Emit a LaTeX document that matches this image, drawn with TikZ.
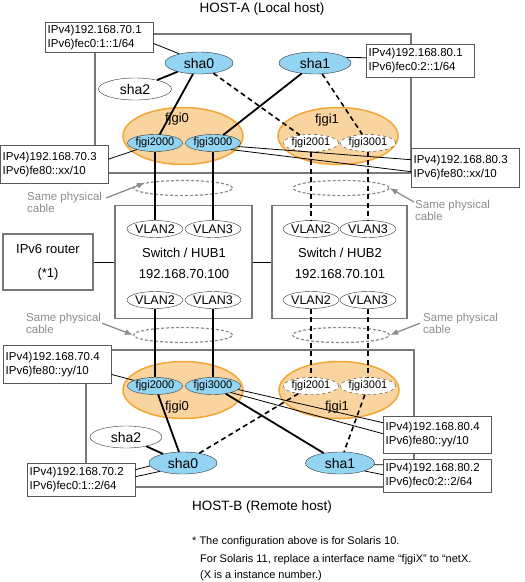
\documentclass[tikz,border=0pt]{standalone}
\usepackage{fontspec}
\setmainfont{Liberation Sans}
\usetikzlibrary{shapes.geometric,arrows.meta}
\definecolor{shablue}{RGB}{146,212,242}
\definecolor{fjfill}{RGB}{249,212,158}
\definecolor{fjline}{RGB}{242,166,52}
\definecolor{hostgray}{RGB}{120,120,120}
\definecolor{cablegray}{RGB}{140,140,140}

\begin{document}
\begin{tikzpicture}[x=1pt,y=-1pt,
  sha/.style={ellipse,draw=black!80,fill=shablue,inner sep=0pt,minimum width=68pt,minimum height=22pt,font=\fontsize{14}{14}\selectfont},
  shaw/.style={sha,fill=white,minimum width=73pt},
  grp/.style={ellipse,draw=fjline,line width=1.5pt,fill=fjfill,minimum width=120pt,minimum height=57pt,inner sep=0pt},
  grptxt/.style={font=\fontsize{13}{13}\selectfont},
  nic/.style={ellipse,draw=black!80,fill=shablue,inner sep=0pt,minimum width=55pt,minimum height=17pt,font=\fontsize{11}{11}\selectfont},
  nicd/.style={nic,fill=white,dashed},
  vlan/.style={ellipse,draw=black!80,fill=white,inner sep=0pt,minimum width=55pt,minimum height=17pt,font=\fontsize{12.5}{12.5}\selectfont},
  cable/.style={ellipse,draw=cablegray,dash pattern=on 3pt off 2pt,line width=1.2pt,minimum width=99pt,minimum height=15pt,inner sep=0pt},
  lbl/.style={draw=black!65,fill=white,anchor=north west,align=left,text width=103pt,inner sep=2.5pt,minimum height=34pt,font=\fontsize{11.5}{14}\selectfont},
  hostbox/.style={draw=hostgray,line width=1.1pt},
  hub/.style={rectangle,draw=hostgray,line width=1.1pt,minimum width=137pt,minimum height=113pt},
  lnk/.style={line width=1.8pt},
  dlnk/.style={line width=1.6pt,dash pattern=on 5pt off 3.5pt},
  thin/.style={line width=0.8pt},
  gtxt/.style={text=cablegray,align=left,anchor=north west,inner sep=0pt,font=\fontsize{11.5}{11.5}\selectfont},
  garr/.style={draw=cablegray,line width=1.3pt,-{Latex[length=8pt,width=6pt]}},
  ttl/.style={font=\fontsize{13.5}{13.5}\selectfont}]
\useasboundingbox (0,0) rectangle (525,582);

\node[ttl] (hosta) at (262,9) {HOST-A (Local host)};
\draw[hostbox] (95,34) rectangle (411,173);
\node[grp] (f0a) at (183,136) {};
\node[grp] (f1a) at (338,136) {};
\node[grptxt] (f0at) at (177,119) {fjgi0};
\node[grptxt] (f1at) at (327,120) {fjgi1};
\node[sha] (s0a) at (199,63) {sha0};
\node[sha,minimum width=72pt] (s1a) at (315,63) {sha1};
\node[shaw] (s2a) at (135,89) {sha2};
\node[nic] (g20a) at (155,143) {fjgi2000};
\node[nic] (g30a) at (213,143) {fjgi3000};
\node[nicd] (g21a) at (311,143) {fjgi2001};
\node[nicd] (g31a) at (368,143) {fjgi3001};
\draw[lnk] (s0a) -- (s2a);
\draw[lnk] (s0a) -- (g20a);
\draw[lnk] (s1a) -- (g30a);
\draw[dlnk] (s0a) -- (g21a);
\draw[dlnk] (s1a) -- (g31a);

\node[cable] (ca1) at (183,188) {};
\node[cable,minimum width=96pt] (ca2) at (341,188) {};
\node[cable] (cb1) at (183,335) {};
\node[cable,minimum width=97pt] (cb2) at (341,335) {};
\node[gtxt] (t1) at (27,192) {Same physical\\cable};
\node[gtxt] (t2) at (415,200) {Same physical\\cable};
\node[gtxt] (t3) at (26,313) {Same physical\\cable};
\node[gtxt] (t4) at (423,313) {Same physical\\cable};
\draw[garr] ([xshift=4pt,yshift=-6pt]t1.north east) -- (ca1.172);
\draw[garr] ([xshift=-1pt,yshift=-2pt]t2.north west) -- (ca2.east);
\draw[garr] ([xshift=1pt]t3.east) -- (cb1.west);
\draw[garr] ([xshift=-3pt]t4.west) -- (cb2.east);

\node[hub] (hub1) at (183.5,262) {};
\node[hub,minimum width=135pt] (hub2) at (339.5,262) {};
\node[align=center,font=\fontsize{13}{21}\selectfont] (hub1t) at (184,263.5) {Switch / HUB1\\192.168.70.100};
\node[align=center,font=\fontsize{13}{21}\selectfont] (hub2t) at (340,263.5) {Switch / HUB2\\192.168.70.101};
\node[vlan] (v2a) at (155,229) {VLAN2};
\node[vlan] (v3a) at (213,229) {VLAN3};
\node[vlan] (v2b) at (155,300) {VLAN2};
\node[vlan] (v3b) at (213,300) {VLAN3};
\node[vlan] (v2c) at (311,229) {VLAN2};
\node[vlan] (v3c) at (368,229) {VLAN3};
\node[vlan] (v2d) at (311,300) {VLAN2};
\node[vlan] (v3d) at (368,300) {VLAN3};
\node[rectangle,draw=hostgray,line width=1.1pt,minimum width=90pt,minimum height=56pt,align=center,font=\fontsize{13}{24}\selectfont] (rtr) at (48,262) {IPv6 router\\(*1)};
\draw[thin] (rtr) -- (hub1);
\draw[thin] (hub1) -- (hub2);

\draw[lnk] (g20a.south) -- (v2a.north);
\draw[lnk] (g30a.south) -- (v3a.north);
\draw[dlnk] (g21a.south) -- (v2c.north);
\draw[dlnk] (g31a.south) -- (v3c.north);

\node[ttl] (hostb) at (262,507) {HOST-B (Remote host)};
\draw[hostbox] (86,350) rectangle (414,487);
\node[grp] (f0b) at (183,390) {};
\node[grp] (f1b) at (339,390) {};
\node[grptxt] (f0bt) at (177,407) {fjgi0};
\node[grptxt] (f1bt) at (337,407) {fjgi1};
\node[nic] (g20b) at (155,386) {fjgi2000};
\node[nic] (g30b) at (213,386) {fjgi3000};
\node[nicd] (g21b) at (311,386) {fjgi2001};
\node[nicd] (g31b) at (368,386) {fjgi3001};
\node[shaw,minimum width=72pt] (s2b) at (126,437) {sha2};
\node[sha] (s0b) at (183,463) {sha0};
\node[sha,minimum width=69pt] (s1b) at (340,463) {sha1};
\draw[lnk] (g20b) -- (s0b);
\draw[lnk] (s2b) -- (s0b);
\draw[lnk] (g30b) -- (s1b);
\draw[dlnk] (s0b) -- (g21b);
\draw[dlnk] (g31b) -- (s1b);

\draw[lnk] (v2b.south) -- (g20b.north);
\draw[lnk] (v3b.south) -- (g30b.north);
\draw[dlnk] (v2d.south) -- (g21b.north);
\draw[dlnk] (v3d.south) -- (g31b.north);

\node[lbl,minimum height=30pt] (la1) at (45,22) {IPv4)192.168.70.1\\IPv6)fec0:1::1/64};
\node[lbl,minimum height=33pt] (la2) at (366,44) {IPv4)192.168.80.1\\IPv6)fec0:2::1/64};
\node[lbl,minimum height=38pt] (la3) at (0,145) {IPv4)192.168.70.3\\IPv6)fe80::xx/10};
\node[lbl,minimum height=39pt] (la4) at (411,148) {IPv4)192.168.80.3\\IPv6)fe80::xx/10};
\draw[thin] ([yshift=9pt]la1.south east) -- (s0a.155);
\draw[thin] ([yshift=3pt]la2.west) -- (s1a.10);
\draw[thin] ([yshift=5pt]la3.east) -- (g20a.200);
\draw[thin] (g30a.-8) -- ([yshift=8pt]la4.west);
\draw[thin] (g30a.-20) -- ([yshift=-4pt]la4.west);

\node[lbl,minimum height=38pt] (lb1) at (3,345) {IPv4)192.168.70.4\\IPv6)fe80::yy/10};
\node[lbl,minimum height=37pt] (lb2) at (383,416) {IPv4)192.168.80.4\\IPv6)fe80::yy/10};
\node[lbl,minimum height=33pt] (lb3) at (27,463) {IPv4)192.168.70.2\\IPv6)fec0:1::2/64};
\node[lbl,minimum height=33pt] (lb4) at (383,459) {IPv4)192.168.80.2\\IPv6)fec0:2::2/64};
\draw[thin] ([yshift=9pt]lb1.south east) -- (g20b.165);
\draw[thin] (g30b.-8) -- ([yshift=12pt]lb2.west);
\draw[thin] (g30b.-20) -- ([yshift=1pt]lb2.west);
\draw[thin] (s0b.185) -- ([yshift=10pt]lb3.east);
\draw[thin] (s0b.200) -- ([yshift=3pt]lb3.east);
\draw[thin] (s1b.-3) -- ([yshift=11pt]lb4.west);
\draw[thin] (s1b.-18) -- ([yshift=1pt]lb4.west);

\node[anchor=base west,inner sep=0pt,font=\fontsize{11}{11}\selectfont] (fn1) at (192,544) {* The configuration above is for Solaris 10.};
\node[anchor=base west,inner sep=0pt,font=\fontsize{11}{11}\selectfont] (fn2) at (200,562) {For Solaris 11, replace a interface name “fjgiX” to “netX.};
\node[anchor=base west,inner sep=0pt,font=\fontsize{11}{11}\selectfont] (fn3) at (200,578) {(X is a instance number.)};
\end{tikzpicture}
\end{document}
